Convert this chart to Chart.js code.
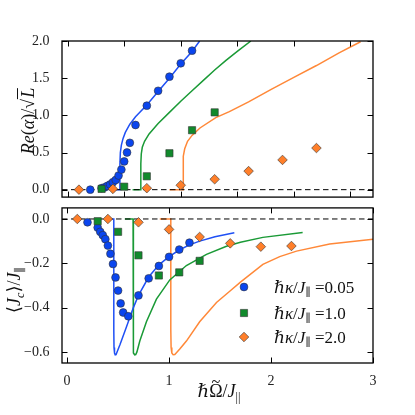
<!DOCTYPE html>
<html>
<head>
<meta charset="utf-8">
<script src="https://cdn.jsdelivr.net/npm/chart.js@4.4.0/dist/chart.umd.min.js"></script>
<style>
  html, body { margin: 0; padding: 0; background: #fff; }
  #fig { position: relative; width: 415px; height: 415px; overflow: hidden; background: #fff;
         font-family: "Liberation Serif", "DejaVu Serif", serif; color: #111; }
  #fig canvas { position: absolute; left: 0; }
  .lbl { position: absolute; white-space: nowrap; line-height: 1; }
  .rot { transform: translate(-50%, -50%) rotate(-90deg); font-size: 18px; }
  .ctr { transform: translate(-50%, -50%); font-size: 18px; }
  .leg { transform: translateY(-50%); font-size: 17px; }
  sub { font-size: 0.68em; vertical-align: -0.32em; line-height: 0; }
  .ov { border-top: 1px solid #111; padding-left: 1px; }
  .tl { position: relative; display: inline-block; }
  .tl .acc { position: absolute; left: 0; right: 0; top: -0.52em; text-align: center; font-size: 0.9em; }
</style>
</head>
<body>
<div id="fig">
  <canvas id="chartTop" width="415" height="210" style="top:0px"></canvas>
  <canvas id="chartBottom" width="415" height="220" style="top:195px"></canvas>
  <div class="lbl rot" style="left:28px; top:121px"><i>Re</i>(<i>α</i>)/√<span class="ov"><i>L</i></span></div>
  <div class="lbl rot" style="left:14px; top:290px">⟨<i>J</i><sub><i>c</i></sub>⟩/<i>J</i><sub>∥</sub></div>
  <div class="lbl ctr" style="left:219px; top:391px"><i>ℏ</i><span class="tl">Ω<span class="acc">~</span></span>/<i>J</i><sub>||</sub></div>
  <div class="lbl leg" style="left:274px; top:287px"><i>ℏκ</i>/<i>J</i><sub>∥</sub> =0.05</div>
  <div class="lbl leg" style="left:274px; top:313px"><i>ℏκ</i>/<i>J</i><sub>∥</sub> =1.0</div>
  <div class="lbl leg" style="left:274px; top:337px"><i>ℏκ</i>/<i>J</i><sub>∥</sub> =2.0</div>
</div>
<script>
// simulation points, hbar*kappa/J = 0.05 (blue circles)
const omegaBlue = [0.2, 0.3, 0.325, 0.35, 0.375, 0.4, 0.425, 0.45, 0.475, 0.5, 0.525, 0.55, 0.6, 0.7, 0.8, 0.9, 1.0, 1.1, 1.2];
const alphaBlue = [0.0, 0.02, 0.03, 0.05, 0.07, 0.10, 0.13, 0.19, 0.27, 0.38, 0.50, 0.63, 0.87, 1.13, 1.33, 1.52, 1.70, 1.87, null];
const currentBlue = [-0.015, -0.039, -0.058, -0.073, -0.091, -0.120, -0.157, -0.203, -0.264, -0.323, -0.381, -0.422, -0.439, -0.345, -0.268, -0.212, -0.171, -0.138, -0.107];

// hbar*kappa/J = 1.0 (green squares)
const omegaGreen = [0.3, 0.5, 0.7, 0.9, 1.1, 1.3];
const alphaGreen = [0.01, 0.04, 0.18, 0.49, 0.80, 1.04];
const currentGreen = [-0.01, -0.058, -0.164, -0.255, -0.241, -0.189];

// hbar*kappa/J = 2.0 (orange diamonds)
const omegaOrange = [0.1, 0.4, 0.7, 1.0, 1.3, 1.6, 1.9, 2.2];
const alphaOrange = [0.0, 0.01, 0.02, 0.06, 0.14, 0.25, 0.40, 0.56];
const currentOrange = [0.0, 0.0, -0.015, -0.047, -0.081, -0.110, -0.125, -0.122];

// mean field curves, top panel
const mfBlueTopX = [0.39, 0.462, 0.462, 0.466, 0.475, 0.49, 0.51, 0.55, 0.60, 0.70, 0.80, 0.90, 1.00, 1.10, 1.167];
const mfBlueTopY = [0, 0, 0.35, 0.50, 0.60, 0.69, 0.77, 0.88, 0.98, 1.14, 1.32, 1.50, 1.69, 1.86, 2.0];
const mfGreenTopX = [0.574, 0.647, 0.647, 0.651, 0.66, 0.68, 0.72, 0.80, 0.90, 1.00, 1.10, 1.20, 1.30, 1.40, 1.50, 1.62];
const mfGreenTopY = [0, 0, 0.35, 0.48, 0.57, 0.65, 0.75, 0.89, 1.04, 1.19, 1.33, 1.47, 1.61, 1.74, 1.86, 2.0];
const mfOrangeTopX = [0.90, 1.02, 1.02, 1.025, 1.035, 1.06, 1.10, 1.17, 1.31, 1.43, 1.60, 1.80, 2.00, 2.20, 2.40, 2.59];
const mfOrangeTopY = [0, 0, 0.30, 0.45, 0.55, 0.65, 0.73, 0.83, 0.97, 1.05, 1.18, 1.35, 1.51, 1.67, 1.84, 1.99];

// mean field curves, bottom panel
const mfBlueBotX = [0.43, 0.458, 0.458, 0.46, 0.465, 0.472, 0.48, 0.49, 0.52, 0.58, 0.65, 0.70, 0.80, 0.90, 1.0, 1.1, 1.2, 1.3, 1.45, 1.64];
const mfBlueBotY = [0, 0, -0.5, -0.58, -0.605, -0.613, -0.612, -0.60, -0.565, -0.49, -0.40, -0.345, -0.262, -0.207, -0.17, -0.14, -0.117, -0.10, -0.08, -0.062];
const mfGreenBotX = [0.566, 0.647, 0.647, 0.649, 0.655, 0.663, 0.673, 0.685, 0.713, 0.778, 0.876, 1.007, 1.17, 1.367, 1.563, 1.70, 1.92, 2.31];
const mfGreenBotY = [0, 0, -0.5, -0.58, -0.605, -0.613, -0.612, -0.60, -0.551, -0.464, -0.362, -0.275, -0.21, -0.16, -0.123, -0.105, -0.083, -0.061];
const mfOrangeBotX = [0.909, 1.017, 1.017, 1.02, 1.027, 1.04, 1.056, 1.07, 1.105, 1.17, 1.30, 1.465, 1.595, 1.70, 1.92, 2.085, 2.25, 2.575, 3.0];
const mfOrangeBotY = [0, 0, -0.5, -0.58, -0.605, -0.613, -0.612, -0.605, -0.587, -0.551, -0.464, -0.377, -0.326, -0.285, -0.205, -0.17, -0.145, -0.113, -0.091];

const zeroX = [-0.05, 3.0];
const zeroY = [0, 0];

const topXTicks = [0, 0.5, 1, 1.5, 2, 2.5];
const topYTicks = [0, 0.5, 1, 1.5, 2];
const botXTicks = [0, 1, 2, 3];
const botYTicks = [0, -0.2, -0.4, -0.6];

const BLUE = "#0a45ee", GREEN = "#118a2c", ORANGE = "#ff7f2a";
const BLUE_L = "#1f50f5", GREEN_L = "#1a9a36", ORANGE_L = "#ff8838";

function pts(xs, ys) {
    return xs.map((x, i) => ({ x: x, y: ys[i] })).filter(p => p.y !== null);
}

function markers(xs, ys, style, color, radius, order) {
    return {
        data: pts(xs, ys), showLine: false, pointStyle: style, pointRadius: radius,
        backgroundColor: color, borderColor: "#333", borderWidth: 0.6, order: order
    };
}

function curve(xs, ys, color) {
    return { data: pts(xs, ys), showLine: true, pointRadius: 0, borderColor: color, borderWidth: 1.5, tension: 0, order: 10 };
}

function zeroLine() {
    return { data: pts(zeroX, zeroY), showLine: true, pointRadius: 0, borderColor: "#000", borderWidth: 1, borderDash: [5.5, 3.5], order: 6 };
}

function label(v) {
    return (Math.abs(v) < 1e-9 ? 0 : v).toFixed(1).replace("-", "\u2212");
}

// frame + inward tick marks on all four sides
const framePlugin = {
    id: "frame",
    afterDatasetsDraw(chart, args, opts) {
        const ctx = chart.ctx, a = chart.chartArea;
        const x = chart.scales.x, y = chart.scales.y;
        const L = 5.5;
        ctx.save();
        ctx.strokeStyle = "#000";
        ctx.lineWidth = 1;
        ctx.beginPath();
        opts.xTicks.forEach(v => {
            const px = Math.round(x.getPixelForValue(v)) + 0.5;
            ctx.moveTo(px, a.bottom); ctx.lineTo(px, a.bottom - L);
            ctx.moveTo(px, a.top); ctx.lineTo(px, a.top + L);
        });
        opts.yTicks.forEach(v => {
            const py = Math.round(y.getPixelForValue(v)) + 0.5;
            ctx.moveTo(a.left, py); ctx.lineTo(a.left + L, py);
            ctx.moveTo(a.right, py); ctx.lineTo(a.right - L, py);
        });
        ctx.stroke();
        ctx.lineWidth = 1.3;
        ctx.strokeRect(a.left, a.top, a.right - a.left, a.bottom - a.top);

        if (opts.legend) {
            opts.legend.forEach(item => {
                ctx.fillStyle = item.color;
                ctx.strokeStyle = "#333";
                ctx.lineWidth = 0.6;
                ctx.beginPath();
                if (item.style === "circle") {
                    ctx.arc(item.x, item.y, 3.9, 0, Math.PI * 2);
                } else if (item.style === "rect") {
                    ctx.rect(item.x - 3.6, item.y - 3.6, 7.2, 7.2);
                } else {
                    ctx.moveTo(item.x, item.y - 4.8); ctx.lineTo(item.x + 4.8, item.y);
                    ctx.lineTo(item.x, item.y + 4.8); ctx.lineTo(item.x - 4.8, item.y);
                    ctx.closePath();
                }
                ctx.fill();
                ctx.stroke();
            });
        }
        ctx.restore();
    }
};

const tickFont = { family: "'Liberation Serif', 'DejaVu Serif', serif", size: 14 };

function yScale(min, max, ticks) {
    return {
        type: "linear", min: min, max: max,
        grid: { display: false }, border: { display: false },
        afterBuildTicks: s => { s.ticks = ticks.map(v => ({ value: v })); },
        afterFit: s => { s.width = 62; },
        ticks: { padding: 4.5, font: tickFont, color: "#222", callback: v => label(v) }
    };
}

new Chart(document.getElementById("chartTop"), {
    type: "scatter",
    data: {
        datasets: [
            markers(omegaOrange, alphaOrange, "rectRot", ORANGE, 4.8, 1),
            markers(omegaGreen, alphaGreen, "rect", GREEN, 5.1, 2),
            markers(omegaBlue, alphaBlue, "circle", BLUE, 3.9, 3),
            zeroLine(),
            curve(mfBlueTopX, mfBlueTopY, BLUE_L),
            curve(mfGreenTopX, mfGreenTopY, GREEN_L),
            curve(mfOrangeTopX, mfOrangeTopY, ORANGE_L)
        ]
    },
    options: {
        responsive: false, animation: false, devicePixelRatio: 1, events: [],
        layout: { padding: { left: 0, top: 41, right: 42, bottom: 8 } },
        scales: {
            x: { type: "linear", min: -0.05, max: 2.7, display: false },
            y: yScale(-0.1, 2.0, topYTicks)
        },
        plugins: {
            legend: { display: false }, tooltip: { enabled: false },
            frame: { xTicks: topXTicks, yTicks: topYTicks }
        }
    },
    plugins: [framePlugin]
});

new Chart(document.getElementById("chartBottom"), {
    type: "scatter",
    data: {
        datasets: [
            markers(omegaOrange, currentOrange, "rectRot", ORANGE, 4.8, 1),
            markers(omegaGreen, currentGreen, "rect", GREEN, 5.1, 2),
            markers(omegaBlue, currentBlue, "circle", BLUE, 3.9, 3),
            zeroLine(),
            curve(mfBlueBotX, mfBlueBotY, BLUE_L),
            curve(mfGreenBotX, mfGreenBotY, GREEN_L),
            curve(mfOrangeBotX, mfOrangeBotY, ORANGE_L)
        ]
    },
    options: {
        responsive: false, animation: false, devicePixelRatio: 1, events: [],
        layout: { padding: { left: 0, top: 7, right: 42, bottom: 22 } },
        scales: {
            x: {
                type: "linear", min: -0.05, max: 3.0,
                grid: { display: false }, border: { display: false },
                afterBuildTicks: s => { s.ticks = botXTicks.map(v => ({ value: v })); },
                afterFit: s => { s.height = 30; },
                ticks: { padding: 2, font: tickFont, color: "#222", maxRotation: 0, callback: v => String(v) }
            },
            y: yScale(-0.65, 0.05, botYTicks)
        },
        plugins: {
            legend: { display: false }, tooltip: { enabled: false },
            frame: {
                xTicks: botXTicks, yTicks: botYTicks,
                legend: [
                    { style: "circle", color: BLUE, x: 244, y: 92 },
                    { style: "rect", color: GREEN, x: 244, y: 118 },
                    { style: "rectRot", color: ORANGE, x: 244, y: 142 }
                ]
            }
        }
    },
    plugins: [framePlugin]
});
</script>
</body>
</html>
